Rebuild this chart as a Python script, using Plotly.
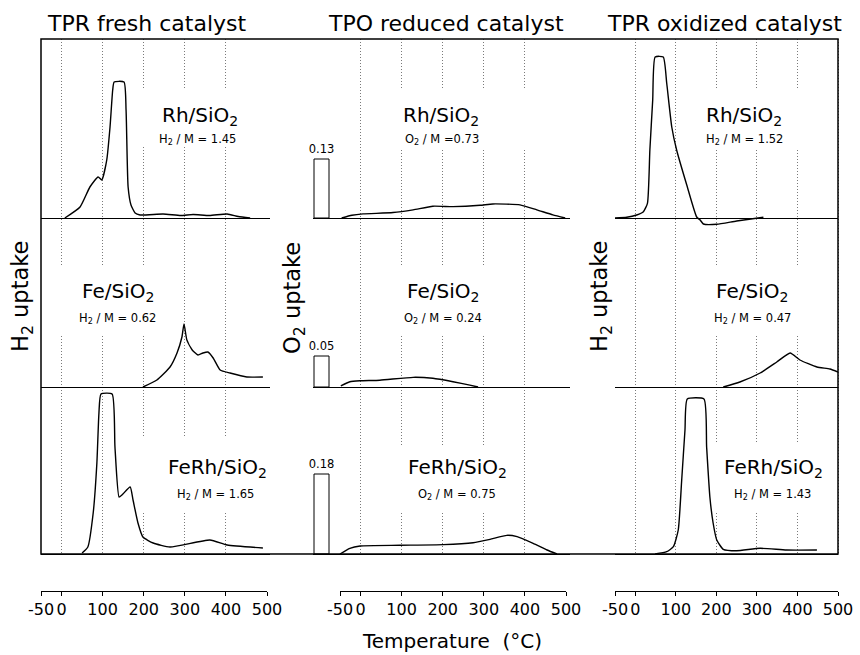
import plotly.graph_objects as go

W, H = 860, 655

# ---------------- data ----------------
PANEL_TITLES = ["TPR fresh catalyst", "TPO reduced catalyst", "TPR oxidized catalyst"]
Y_TITLES = ["H<sub>2</sub> uptake", "O<sub>2</sub> uptake", "H<sub>2</sub> uptake"]
X_TITLE = "Temperature\u00a0\u00a0(°C)"
SAMPLES = ["Rh/SiO<sub>2</sub>", "Fe/SiO<sub>2</sub>", "FeRh/SiO<sub>2</sub>"]
RATIO_LABELS = [
    ["H<sub>2</sub> / M = 1.45", "H<sub>2</sub> / M = 0.62", "H<sub>2</sub> / M = 1.65"],
    ["O<sub>2</sub> / M =0.73", "O<sub>2</sub> / M = 0.24", "O<sub>2</sub> / M = 0.75"],
    ["H<sub>2</sub> / M = 1.52", "H<sub>2</sub> / M = 0.47", "H<sub>2</sub> / M = 1.43"],
]
TICK_VALS = [-50, 0, 100, 200, 300, 400, 500]
TICK_TEXT = ["-50", "0", "100", "200", "300", "400", "500"]

# TPO pulse (O2 uptake at room temperature)
TPO_PULSE = [0.13, 0.05, 0.18]
TPO_PULSE_TEXT = ["0.13", "0.05", "0.18"]

# TPR fresh catalyst (H2 uptake, a.u.)
FRESH_RH_T = [8, 45, 69, 89, 98, 110, 118, 124.5, 128, 152, 157, 162, 169, 179, 191, 247, 290, 320, 360, 403, 430, 459]
FRESH_RH_Y = [0, 11, 31, 41, 38, 58, 91, 128, 136, 136, 108, 31, 13, 5, 3, 4, 2.5, 3.5, 2.5, 4, 1.5, 0]
FRESH_FE_T = [198, 232, 264, 281, 293, 298, 305, 318, 332, 344, 356, 369, 386, 410, 451, 490]
FRESH_FE_Y = [0, 7, 20, 34, 50, 63, 47, 37, 32, 34, 35, 29, 17, 14, 10, 10]
FRESH_FERH_T = [50, 64, 77, 86, 91, 96, 123, 130, 140, 147, 167, 174, 186, 198, 223, 264, 361, 403, 490]
FRESH_FERH_Y = [1, 7, 41, 91, 141, 160, 160, 107, 57, 59, 67, 54, 31, 17, 11, 7, 14, 9, 6]

# TPO reduced catalyst (O2 uptake)
TPO_RH_T = [-46, -21, 6, 79, 128, 176, 225, 291, 322, 388, 429, 468, 498]
TPO_RH_Y = [0, 0.006, 0.009, 0.012, 0.018, 0.026, 0.025, 0.028, 0.031, 0.029, 0.018, 0.007, 0]
TPO_FE_T = [-48, -26, -1, 47, 128, 176, 225, 266, 286]
TPO_FE_Y = [0.002, 0.0085, 0.010, 0.011, 0.0156, 0.014, 0.0085, 0.003, 0]
TPO_FERH_T = [-50, -26, -1, 96, 201, 274, 315, 356, 381, 420, 454, 478]
TPO_FERH_Y = [0, 0.0128, 0.018, 0.0196, 0.021, 0.0254, 0.033, 0.042, 0.039, 0.024, 0.009, 0]

# TPR oxidized catalyst (H2 uptake, a.u.)
OX_RH_T = [-50, -21, 3.5, 20, 30, 36, 43, 49, 69, 77.5, 90, 102, 127, 151.5, 160, 168, 201, 250, 316]
OX_RH_Y = [0, 0.7, 3, 6.3, 14.7, 68, 118, 161, 161, 135, 91, 68, 33, 1, -2, -6, -6.3, -3, 0.7]
OX_FE_T = [217, 258, 308, 349, 382, 406, 448, 480, 500]
OX_FE_Y = [0, 5, 14, 25, 34, 27, 20, 18, 15]
OX_FERH_T = [49, 77.5, 94, 106, 114.5, 122.6, 128.3, 169.4, 176, 184, 192, 201, 217, 250, 308, 373, 448]
OX_FERH_Y = [0, 2.3, 7.3, 24, 74, 124, 155, 155, 107, 57, 31, 14, 4.7, 3.3, 5.7, 4, 4]

CURVES = [
    [(FRESH_RH_T, FRESH_RH_Y), (FRESH_FE_T, FRESH_FE_Y), (FRESH_FERH_T, FRESH_FERH_Y)],
    [(TPO_RH_T, TPO_RH_Y), (TPO_FE_T, TPO_FE_Y), (TPO_FERH_T, TPO_FERH_Y)],
    [(OX_RH_T, OX_RH_Y), (OX_FE_T, OX_FE_Y), (OX_FERH_T, OX_FERH_Y)],
]

# ---------------- layout geometry (pixels) ----------------
X_M50 = [41, 340, 615]          # pixel of -50 °C in each panel
X_500 = [267, 566, 838]         # pixel of 500 °C in each panel
ROW_DOM = [(41, 270), (313, 570), (615, 838)]
ROW_TOP = [39, 218, 387]
ROW_BASE = [218, 387, 554]
PAD = 10
BAR_PX = [59, 31, 80]
BAR_X, BAR_W = -95, 36.5
FRAME = (41, 39, 838, 554)
AXIS_Y = 591

TITLE_POS = [(147, 23), (446, 23), (724, 23)]
YTITLE_POS = [(22, 297), (294, 298), (601, 297)]
MAIN_POS = [[(200, 116), (118, 292), (217, 468)],
            [(441, 116), (443, 292), (457, 468)],
            [(744, 116), (752, 292), (773, 468)]]
SUB_POS = [[(197, 139), (117, 318), (215, 494)],
           [(442, 139), (443, 318), (457, 494)],
           [(744, 139), (752, 318), (772, 494)]]
BOXES = [(132, 90, 262, 147), (48, 267, 178, 335), (139, 437, 272, 512),
         (385, 90, 540, 148), (390, 267, 500, 335), (390, 445, 515, 512),
         (700, 90, 815, 148), (700, 267, 815, 335), (716, 443, 832, 512)]

FONT = "DejaVu Sans"

def fx(px):
    return px / W

def fy(py):
    return 1 - py / H

layout = dict(
    width=W, height=H, autosize=False,
    margin=dict(l=0, r=0, t=0, b=0, pad=0),
    paper_bgcolor="white", plot_bgcolor="rgba(0,0,0,0)",
    showlegend=False,
    font=dict(family=FONT, color="black"),
    annotations=[], shapes=[],
)
traces = []
HIDDEN = dict(showgrid=False, zeroline=False, showline=False, showticklabels=False,
              ticks="", fixedrange=True, automargin=False)
counter = [0]

def new_axes(xd, yd):
    counter[0] += 1
    i = counter[0]
    sfx = "" if i == 1 else str(i)
    xref, yref = "x" + sfx, "y" + sfx
    xd["anchor"] = yref
    yd["anchor"] = xref
    layout["xaxis" + sfx] = xd
    layout["yaxis" + sfx] = yd
    return xref, yref

for p in range(3):
    s = (X_500[p] - X_M50[p]) / 550.0

    def t_of(px, s=s, p=p):
        return -50 + (px - X_M50[p]) / s

    # grid (drawn first, below the curves)
    xd = dict(HIDDEN, domain=[fx(X_M50[p] - 1), fx(X_500[p] + 1)],
              range=[t_of(X_M50[p] - 1), t_of(X_500[p] + 1)],
              showgrid=True, gridcolor="#7a7a7a", griddash="1px,2px", gridwidth=1,
              tickmode="array", tickvals=TICK_VALS)
    yd = dict(HIDDEN, domain=[fy(FRAME[3]), fy(FRAME[1])], range=[0, 1])
    xr, yr = new_axes(xd, yd)
    traces.append(go.Scatter(x=[None], y=[None], xaxis=xr, yaxis=yr, mode="lines", hoverinfo="skip"))

    # bottom temperature axis
    xd = dict(domain=[fx(X_M50[p]), fx(X_500[p])], range=[-50, 500],
              showline=True, linecolor="black", linewidth=1.2,
              ticks="outside", ticklen=4, tickwidth=1, tickcolor="black",
              tickmode="array", tickvals=TICK_VALS, ticktext=TICK_TEXT,
              tickfont=dict(size=16, color="black", family=FONT),
              showgrid=False, zeroline=False, fixedrange=True, automargin=False)
    yd = dict(HIDDEN, domain=[fy(AXIS_Y), fy(AXIS_Y - 10)], range=[0, 1])
    xr, yr = new_axes(xd, yd)
    traces.append(go.Scatter(x=[None], y=[None], xaxis=xr, yaxis=yr, mode="lines", hoverinfo="skip"))

    # rows
    for r in range(3):
        k = TPO_PULSE[r] / BAR_PX[r] if p == 1 else 1.0
        xd = dict(HIDDEN, domain=[fx(ROW_DOM[p][0]), fx(ROW_DOM[p][1])],
                  range=[t_of(ROW_DOM[p][0]), t_of(ROW_DOM[p][1])])
        yd = dict(HIDDEN, domain=[fy(ROW_BASE[r] + PAD), fy(ROW_TOP[r])],
                  range=[-PAD * k, (ROW_BASE[r] - ROW_TOP[r]) * k],
                  zeroline=True, zerolinecolor="black", zerolinewidth=1)
        xr, yr = new_axes(xd, yd)
        T, Y = CURVES[p][r]
        traces.append(go.Scatter(x=T, y=Y, xaxis=xr, yaxis=yr, mode="lines",
                                 line=dict(color="black", width=1.4, shape="spline", smoothing=0.5),
                                 hoverinfo="skip"))
        if p == 1:
            traces.append(go.Bar(x=[BAR_X], y=[TPO_PULSE[r]], width=[BAR_W], xaxis=xr, yaxis=yr,
                                 marker=dict(color="white", line=dict(color="black", width=1)),
                                 text=[TPO_PULSE_TEXT[r]], textposition="outside",
                                 constraintext="none",
                                 textfont=dict(size=11.5, color="black", family=FONT),
                                 cliponaxis=False, hoverinfo="skip"))

# white label boxes (interrupt the grid)
for (x0, y0, x1, y1) in BOXES:
    layout["shapes"].append(dict(type="rect", xref="paper", yref="paper",
                                 x0=fx(x0), x1=fx(x1), y0=fy(y1), y1=fy(y0),
                                 fillcolor="white", line=dict(width=0), layer="above"))
# frame
layout["shapes"].append(dict(type="rect", xref="paper", yref="paper",
                             x0=fx(FRAME[0]), x1=fx(FRAME[2]), y0=fy(FRAME[3]), y1=fy(FRAME[1]),
                             line=dict(color="black", width=1.5), layer="above"))

def ann(text, pos, size, angle=0):
    layout["annotations"].append(dict(text=text, x=fx(pos[0]), y=fy(pos[1]), xref="paper", yref="paper",
                                      xanchor="center", yanchor="middle", showarrow=False,
                                      textangle=angle, font=dict(size=size, color="black", family=FONT)))

for p in range(3):
    ann(PANEL_TITLES[p], TITLE_POS[p], 22)
    ann(Y_TITLES[p], YTITLE_POS[p], 22.5, -90)
    for r in range(3):
        ann(SAMPLES[r], MAIN_POS[p][r], 20)
        ann(RATIO_LABELS[p][r], SUB_POS[p][r], 11.5)
ann(X_TITLE, (452, 641), 20)

fig = go.Figure(data=traces, layout=layout)
fig.write_html("out.html")
